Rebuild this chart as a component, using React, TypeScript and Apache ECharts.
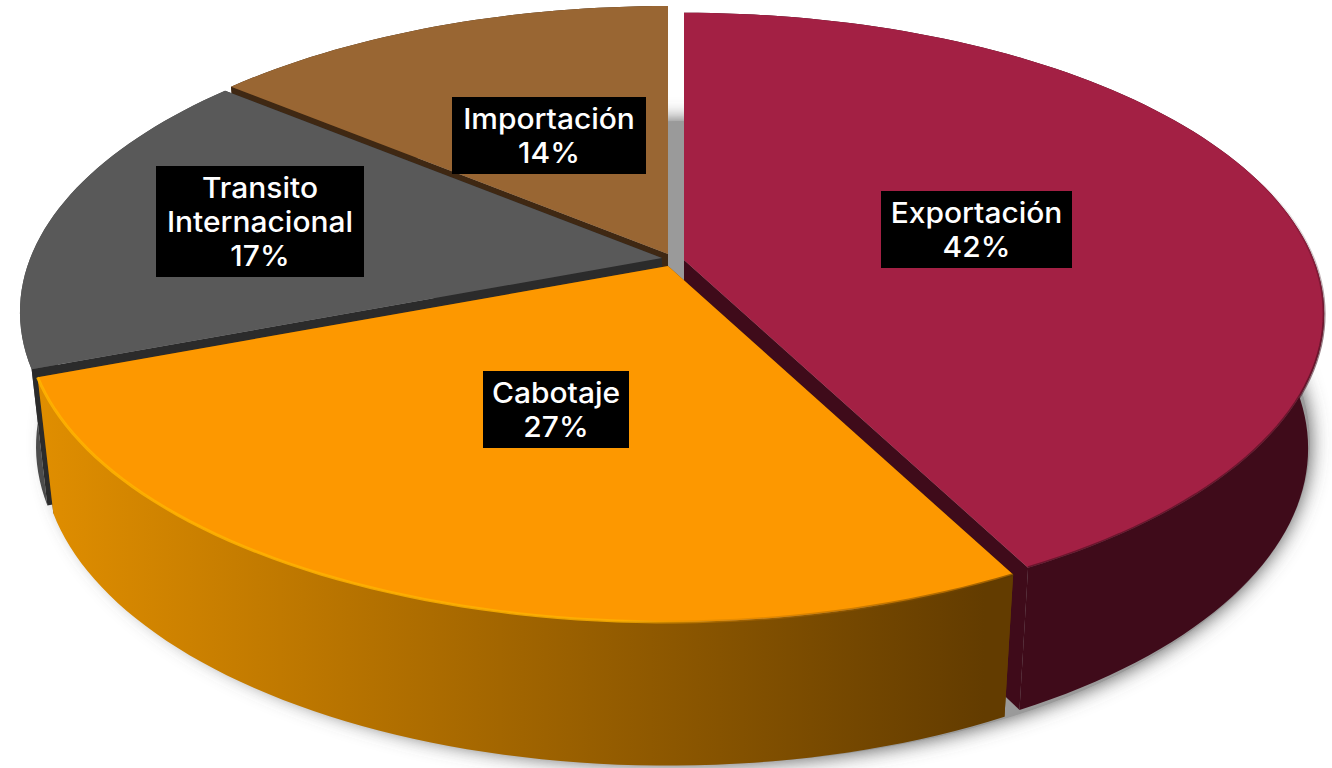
import React, { useEffect, useRef } from "react";
import * as echarts from "echarts";

const categories = ["Exportación", "Cabotaje", "Transito\nInternacional", "Importación"];
const values = [42.4, 26.8, 16.8, 14.0];
const topColors = ["#a32044", "#fd9800", "#595959", "#996633"];
const radialColors = ["#3f0b1a", "#633c00", "#2b2b2b", "#3f2813"];
const outerColors = ["#3f0b1a", "#d98a00", "#4c4c4c", "#3f2813"];
const drawRank = [3, 4, 2, 1];
const apexes = [[684, 260], [668, 266], [662, 258], [668, 254]];
const sliceScales = [0.997, 1, 1, 1];
const labelBoxes = [[881, 191, 191, 77], [483, 371, 146, 77], [156, 166, 208, 111], [452, 97, 194, 77]];

const A = 631.7, B = 292.3, K = 0.1788;
const BOTTOM_DY = 133, BOTTOM_SX = 0.975, BOTTOM_SY = 1.03;
const total = values.reduce((a, b) => a + b, 0);
const rad = (d: number) => (d * Math.PI) / 180;

function topPoint(ap: number[], deg: number, s = 1) {
  const u = Math.sin(rad(deg)), v = -Math.cos(rad(deg));
  const w = 1 - K * v;
  return [ap[0] + (s * A * u) / w, ap[1] + (s * B * v) / w];
}
function bottomPoint(ap: number[], deg: number, s = 1) {
  const u = Math.sin(rad(deg)), v = -Math.cos(rad(deg));
  const w = 1 - K * v;
  return [ap[0] + (s * A * BOTTOM_SX * u) / w, ap[1] + BOTTOM_DY + (s * B * BOTTOM_SY * v) / w];
}
function arc(fn: (a: number[], d: number, s: number) => number[], ap: number[], a0: number, a1: number, s: number) {
  const n = Math.max(8, Math.ceil(Math.abs(a1 - a0) / 1.5));
  const pts: number[][] = [];
  for (let i = 0; i <= n; i++) pts.push(fn(ap, a0 + ((a1 - a0) * i) / n, s));
  return pts;
}

function renderItem(params: any) {
  const i = params.dataIndex;
  const start = (values.slice(0, i).reduce((a, b) => a + b, 0) / total) * 360;
  const end = start + (values[i] / total) * 360;
  const ap = apexes[i];
  const s = sliceScales[i];
  const rank = drawRank[i] * 10;
  const topArc = arc(topPoint, ap, start, end, s);
  const botArc = arc(bottomPoint, ap, start, end, s);
  const apBottom = [ap[0], ap[1] + BOTTOM_DY];
  const children: any[] = [];
  if (i === 0) {
    const pts: number[][] = [];
    for (let d = 0; d < 360; d += 2) pts.push([680 + 630 * Math.cos(rad(d)), 443 + 322 * Math.sin(rad(d))]);
    children.push({
      type: "polygon", z2: 1, shape: { points: pts },
      style: { fill: "#9a9a9a", shadowBlur: 20, shadowColor: "#555555" },
    });
  }
  const wallFill: any = i === 1
    ? new echarts.graphic.LinearGradient(38, 0, 1004, 0, [
        { offset: 0, color: "#e08e00" },
        { offset: 0.98, color: "#633c00" },
        { offset: 1, color: "#633c00" },
      ], true)
    : outerColors[i];
  const radial = (deg: number) => ({
    type: "polygon", z2: i === 1 ? rank : rank + 2,
    shape: { points: [ap, topPoint(ap, deg, s), bottomPoint(ap, deg, s), apBottom] },
    style: { fill: radialColors[i] },
  });
  children.push({
    type: "polygon", z2: rank + 1,
    shape: { points: [...topArc, ...botArc.slice().reverse()] },
    style: { fill: wallFill },
  });
  children.push(radial(start), radial(end));
  children.push({
    type: "polygon", z2: rank + 3,
    shape: { points: [ap, ...topArc] },
    style: { fill: topColors[i] },
  });
  if (i === 1) {
    children.push({
      type: "polyline", z2: rank + 4, shape: { points: topArc },
      style: {
        fill: "none", lineWidth: 3,
        stroke: new echarts.graphic.LinearGradient(38, 0, 1012, 0, [
          { offset: 0, color: "rgba(255,178,0,0.9)" },
          { offset: 0.6, color: "rgba(255,178,0,0.8)" },
          { offset: 0.72, color: "rgba(200,120,0,0.4)" },
          { offset: 1, color: "rgba(90,55,0,0.6)" },
        ], true),
      },
    });
  } else if (i === 0) {
    children.push({
      type: "polyline", z2: rank + 4, shape: { points: topArc },
      style: {
        fill: "none", lineWidth: 3,
        stroke: new echarts.graphic.LinearGradient(0, 180, 0, 340, [
          { offset: 0, color: "rgba(63,11,26,0)" },
          { offset: 1, color: "rgba(63,11,26,0.55)" },
        ], true),
      },
    });
  }
  const [bx, by, bw, bh] = labelBoxes[i];
  children.push({ type: "rect", z2: 100, shape: { x: bx, y: by, width: bw, height: bh }, style: { fill: "#000" } });
  children.push({
    type: "text", z2: 101,
    x: bx + bw / 2, y: by + bh / 2, scaleX: 1.07,
    style: {
      x: 0, y: 0,
      text: `${categories[i]}\n${Math.round(values[i])}%`,
      align: "center", verticalAlign: "middle", fill: "#fff",
      font: '500 28px Inter', lineHeight: 34,
    },
  });
  return { type: "group", children };
}

export default function App() {
  const ref = useRef<HTMLDivElement>(null);
  useEffect(() => {
    document.body.style.margin = "0";
    const chart = echarts.init(ref.current!, undefined, { renderer: "svg" });
    chart.setOption({
      animation: false,
      backgroundColor: "#ffffff",
      series: [{
        type: "custom",
        coordinateSystem: "none",
        renderItem,
        data: values.map((v, i) => [i, v]),
        silent: true,
      }],
    });
    return () => chart.dispose();
  }, []);
  return <div ref={ref} style={{ width: 1332, height: 768 }} />;
}
